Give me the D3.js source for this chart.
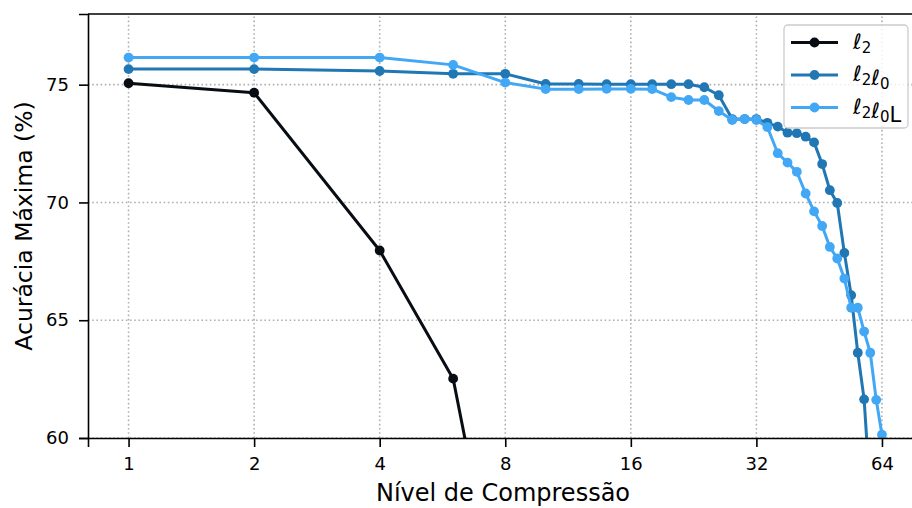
<!DOCTYPE html>
<html>
<head>
<meta charset="utf-8">
<script src="https://cdn.jsdelivr.net/npm/d3@7"></script>
<style>
  body { margin: 0; background: #fff; }
  svg { display: block; font-family: "DejaVu Sans", sans-serif; }
  .axis path, .axis line { stroke: #000; stroke-width: 1.6; }
  .axis text { font-size: 18px; fill: #000; font-family: "DejaVu Sans", sans-serif; }
  .grid line { stroke: #b0b0b0; stroke-width: 1.6; stroke-dasharray: 1.6 2.6; }
</style>
</head>
<body>
<div id="chart"></div>
<script>
// Nivel de compressao (x) vs acuracia maxima (y)
var xTicks = [1, 2, 4, 8, 16, 32, 64];
var yTicks = [60, 65, 70, 75];

var xL2 = [1, 2, 4, 6, 7];
var yL2 = [75.06, 74.66, 67.96, 62.52, 56.5];

var xL2L0 = [1, 2, 4, 6, 8, 10, 12, 14, 16, 18, 20, 22, 24, 26, 28, 30, 32, 34, 36, 38, 40, 42, 44, 46, 48, 50, 52, 54, 56, 58, 60];
var yL2L0 = [75.66, 75.66, 75.58, 75.46, 75.46, 75.03, 75.03, 75.02, 75.02, 75.02, 75.02, 75.02, 74.89, 74.55, 73.54, 73.54, 73.54, 73.38, 73.22, 72.96, 72.94, 72.79, 72.55, 71.63, 70.52, 69.98, 67.86, 66.06, 63.62, 61.64, 57.6];

var xL2L0L = [1, 2, 4, 6, 8, 10, 12, 14, 16, 18, 20, 22, 24, 26, 28, 30, 32, 34, 36, 38, 40, 42, 44, 46, 48, 50, 52, 54, 56, 58, 60, 62, 64];
var yL2L0L = [76.15, 76.15, 76.15, 75.84, 75.09, 74.81, 74.81, 74.82, 74.82, 74.81, 74.47, 74.35, 74.35, 73.88, 73.5, 73.54, 73.5, 73.2, 72.09, 71.69, 71.3, 70.38, 69.62, 69.0, 68.11, 67.62, 66.77, 65.53, 65.53, 64.52, 63.62, 61.62, 60.14];

var width = 912
var height = 508
var margin = { top: 14, bottom: 70, left: 88, right: -6 };

var series = [
    { name: "l2", sub: ["2"], x: xL2, y: yL2, color: "#080d14" },
    { name: "l2l0", sub: ["2", "0"], x: xL2L0, y: yL2L0, color: "#2077b4" },
    { name: "l2l0L", sub: ["2", "0"], tail: "L", x: xL2L0L, y: yL2L0L, color: "#42a8f5" }
];

var svg = d3.select("#chart").append("svg")
    .attr("width", width)
    .attr("height", height);

var xScale = d3.scaleLog().base(2)
    .domain([Math.pow(2, -0.323), Math.pow(2, 6.287)])
    .range([margin.left, width - margin.right]);

var yScale = d3.scaleLinear()
    .domain([60, 78])
    .range([height - margin.bottom, margin.top]);

svg.append("clipPath").attr("id", "plot-clip")
    .append("rect")
    .attr("x", margin.left)
    .attr("y", margin.top)
    .attr("width", width - margin.right - margin.left)
    .attr("height", height - margin.bottom - margin.top);

// grid
var grid = svg.append("g").attr("class", "grid");
grid.selectAll(".gx").data(xTicks).enter().append("line")
    .attr("x1", function(d) { return xScale(d); })
    .attr("x2", function(d) { return xScale(d); })
    .attr("y1", yScale(60))
    .attr("y2", margin.top);
grid.selectAll(".gy").data(yTicks).enter().append("line")
    .attr("x1", margin.left)
    .attr("x2", width - margin.right)
    .attr("y1", function(d) { return yScale(d); })
    .attr("y2", function(d) { return yScale(d); });

// lines
var plot = svg.append("g").attr("clip-path", "url(#plot-clip)");
var line = d3.line()
    .x(function(d) { return xScale(d[0]); })
    .y(function(d) { return yScale(d[1]); });

series.forEach(function(s) {
    var pts = d3.zip(s.x, s.y);
    plot.append("path")
        .datum(pts)
        .attr("fill", "none")
        .attr("stroke", s.color)
        .attr("stroke-width", 3)
        .attr("stroke-linejoin", "round")
        .attr("d", line);
    plot.selectAll(null).data(pts).enter().append("circle")
        .attr("cx", function(d) { return xScale(d[0]); })
        .attr("cy", function(d) { return yScale(d[1]); })
        .attr("r", 4.9)
        .attr("fill", s.color);
});

// axes
svg.append("g")
    .attr("class", "x axis")
    .attr("transform", "translate(0," + (height - margin.bottom) + ")")
    .call(d3.axisBottom(xScale).tickValues(xTicks).tickFormat(d3.format("d"))
        .tickSizeOuter(0).tickSize(9).tickPadding(10));

svg.append("g")
    .attr("class", "y axis")
    .attr("transform", "translate(" + margin.left + ",0)")
    .call(d3.axisLeft(yScale).tickValues(yTicks).tickSizeOuter(0).tickSize(9).tickPadding(10));

// top spine
svg.append("line")
    .attr("x1", margin.left).attr("x2", width)
    .attr("y1", margin.top).attr("y2", margin.top)
    .attr("stroke", "#000").attr("stroke-width", 1.6);

// axis labels
svg.append("text")
    .attr("x", (margin.left + width - margin.right) / 2)
    .attr("y", 501)
    .attr("text-anchor", "middle")
    .style("font-size", "24px")
    .text("Nível de Compressão");

svg.append("text")
    .attr("transform", "translate(24," + ((margin.top + height - margin.bottom) / 2) + ") rotate(-90)")
    .attr("text-anchor", "middle")
    .attr("dy", "0.35em")
    .style("font-size", "23.5px")
    .text("Acurácia Máxima (%)");

// legend
var lg = svg.append("g").attr("transform", "translate(784,25)");
lg.append("rect")
    .attr("width", 124).attr("height", 103)
    .attr("rx", 4)
    .attr("fill", "#fff").attr("fill-opacity", 0.8)
    .attr("stroke", "#cccccc").attr("stroke-width", 1.3);

series.forEach(function(s, i) {
    var cy = 17.5 + i * 32.5;
    lg.append("line")
        .attr("x1", 7).attr("x2", 54)
        .attr("y1", cy).attr("y2", cy)
        .attr("stroke", s.color).attr("stroke-width", 3);
    lg.append("circle")
        .attr("cx", 30.5).attr("cy", cy).attr("r", 4.9)
        .attr("fill", s.color);
    var t = lg.append("text")
        .attr("x", 69).attr("y", cy + 6)
        .style("font-size", "21px");
    s.sub.forEach(function(sb) {
        t.append("tspan").style("font-style", "italic").text("ℓ");
        t.append("tspan").attr("dy", 4).style("font-size", "15px").text(sb);
        t.append("tspan").attr("dy", -4).text("");
    });
    if (s.tail) t.append("tspan").text(s.tail);
});
</script>
</body>
</html>
